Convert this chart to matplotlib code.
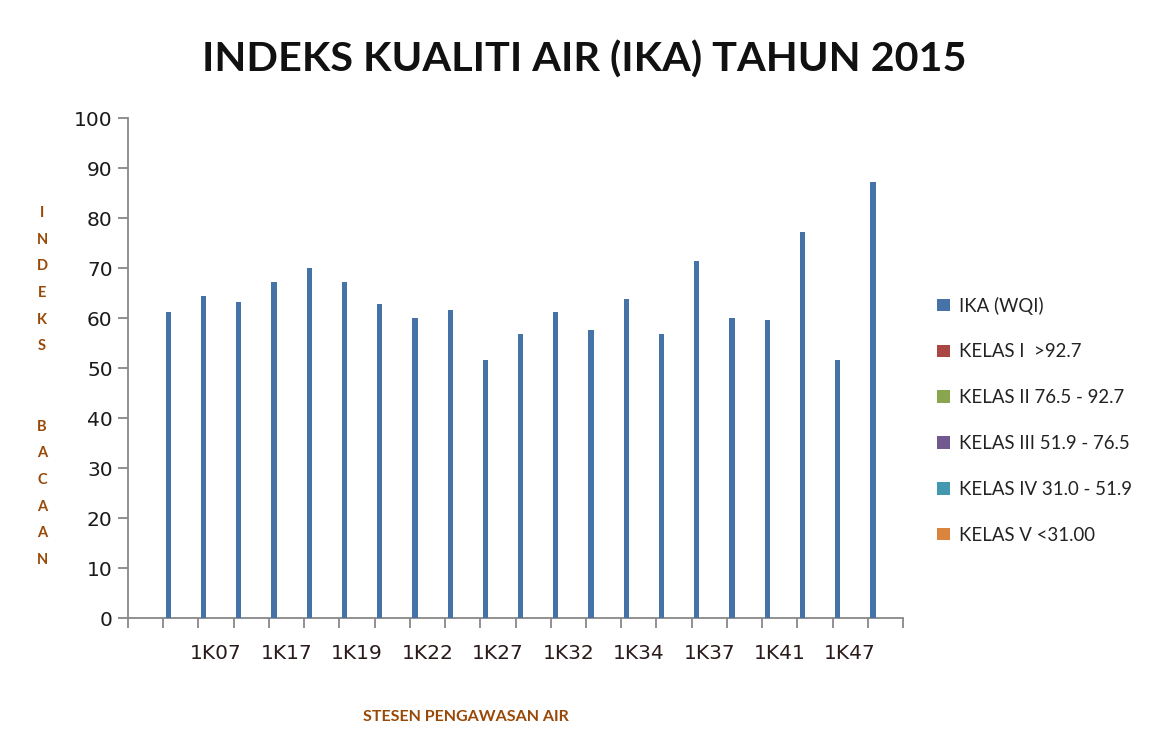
import matplotlib
matplotlib.use("Agg")
import matplotlib.pyplot as plt
import numpy as np

# ---- data ----
categories = ['', 'S01', '1K07', 'S03', '1K17', 'S05', '1K19', 'S07', '1K22', 'S09',
              '1K27', 'S11', '1K32', 'S13', '1K34', 'S15', '1K37', 'S17', '1K41', 'S19',
              '1K47', 'S21']
ika_values = [np.nan, 61.2, 64.5, 63.2, 67.3, 70.0, 67.3, 62.8, 60.0, 61.6,
              51.6, 56.8, 61.3, 57.6, 63.9, 56.8, 71.5, 60.0, 59.6, 77.2,
              51.6, 87.2]
series_names = ['IKA (WQI)', 'KELAS I  >92.7', 'KELAS II 76.5 - 92.7',
                'KELAS III 51.9 - 76.5', 'KELAS IV 31.0 - 51.9', 'KELAS V <31.00']
series_colors = ['#4572A7', '#AA4643', '#89A54E', '#71588F', '#4198AF', '#DB843D']
class_values = [[0.0] * len(categories) for _ in range(5)]
y_ticks = [0, 10, 20, 30, 40, 50, 60, 70, 80, 90, 100]

W, H = 1151, 745
fig = plt.figure(figsize=(W / 100, H / 100), dpi=100)
ax = fig.add_axes([128 / W, 1 - 618 / H, (903 - 128) / W, 500 / H])

n = len(categories)
x = np.arange(n)
bw = 0.15
all_series = [ika_values] + class_values
handles = []
for k, vals in enumerate(all_series):
    h = ax.bar(x - 0.355 + k * bw, vals, width=bw, color=series_colors[k],
               label=series_names[k], edgecolor='none', zorder=3)
    handles.append(h)

ax.set_xlim(-0.5, n - 0.5)
ax.set_ylim(0, 100)
ax.set_yticks(y_ticks)
ax.set_yticklabels([str(v) for v in y_ticks], fontsize=14.5, color='#1a1a1a',
                   family='DejaVu Sans')
# category boundaries as ticks, labels every other category
ax.set_xticks(np.arange(-0.5, n, 1.0))
ax.set_xticklabels([])
lab_pos = [i for i in range(0, n, 2) if categories[i]]
ax.set_xticks(lab_pos, minor=True)
ax.set_xticklabels([categories[i] for i in lab_pos], minor=True, fontsize=14.5,
                   color='#2a1a1a', family='DejaVu Sans')
ax.tick_params(axis='x', which='minor', length=0, pad=19)
ax.tick_params(axis='x', which='major', length=7, width=1.3, color='#888888')
ax.tick_params(axis='y', length=7, width=1.3, color='#888888', pad=4)

for s in ['top', 'right']:
    ax.spines[s].set_visible(False)
for s in ['left', 'bottom']:
    ax.spines[s].set_color('#888888')
    ax.spines[s].set_linewidth(1.3)

fig.text(584 / W, 1 - 60 / H, 'INDEKS KUALITI AIR (IKA) TAHUN 2015', ha='center',
         va='center', fontsize=29.8, fontweight='bold', family='Lato', color='#111111')

brown = '#984807'
ylab = 'INDEKS  BACAAN'
y0 = 213
step = 26.7
for i, ch in enumerate(ylab):
    if ch.strip():
        fig.text(42 / W, 1 - (y0 + i * step) / H, ch, ha='center', va='center',
                 fontsize=10.5, fontweight='bold', family='Lato', color=brown)

fig.text(466 / W, 1 - 717 / H, 'STESEN PENGAWASAN AIR', ha='center', va='center',
         fontsize=11.5, fontweight='bold', family='Lato', color=brown)

leg = fig.legend(handles=handles, labels=series_names, loc='upper left',
                 bbox_to_anchor=(930 / W, 1 - 289 / H), frameon=False,
                 prop={'family': 'Lato', 'size': 13.4}, handlelength=0.65,
                 handleheight=0.65, labelspacing=1.55, handletextpad=0.5,
                 borderaxespad=0)
for t in leg.get_texts():
    t.set_color('#222222')

fig.savefig('out.png', dpi=100)
